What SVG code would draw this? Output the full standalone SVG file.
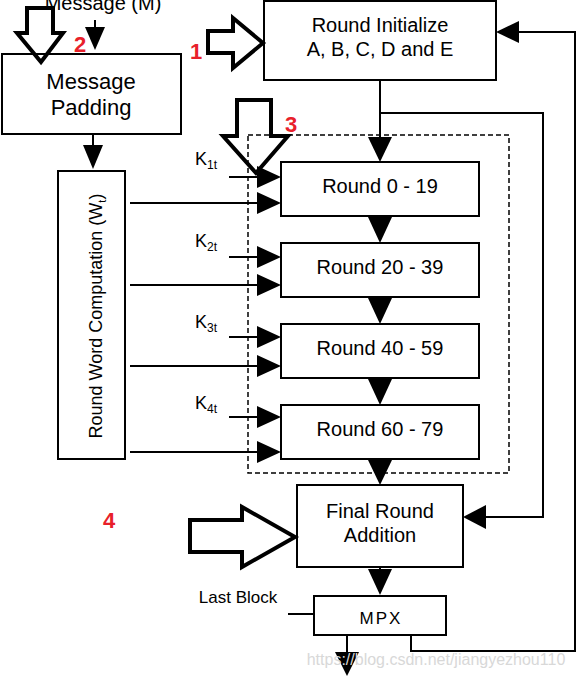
<svg xmlns="http://www.w3.org/2000/svg" width="576" height="676" viewBox="0 0 576 676">
<defs>
<style>
.box{fill:#fff;stroke:#000;stroke-width:2}
.t{font-family:"Liberation Sans",Arial,sans-serif;fill:#000;text-anchor:middle}
.ln{fill:none;stroke:#000;stroke-width:2}
.ah{fill:#000;stroke:none}
.blk{fill:none;stroke:#000;stroke-width:4;stroke-linejoin:miter}
.red{font-family:"Liberation Sans",Arial,sans-serif;font-weight:bold;fill:#e8202a;font-size:22px;text-anchor:middle}
.k{font-family:"Liberation Sans",Arial,sans-serif;font-size:18px;fill:#000}
.dash{fill:none;stroke:#000;stroke-width:1.5;stroke-dasharray:5,3}
</style>
</defs>
<rect width="576" height="676" fill="#fff"/>

<g id="group-dashed">
<rect class="dash" x="248" y="135" width="261" height="338"/>
</g>

<g id="node-message-label">
<text class="t" x="103" y="10" font-size="20">Message (M)</text>
</g>

<g id="node-padding">
<rect class="box" x="2" y="54" width="179" height="80"/>
<text class="t" x="91" y="89" font-size="22">Message</text>
<text class="t" x="91" y="115" font-size="22">Padding</text>
</g>

<g id="node-init">
<rect class="box" x="264" y="1" width="232" height="79"/>
<text class="t" x="380" y="32" font-size="20">Round Initialize</text>
<text class="t" x="380" y="56" font-size="20">A, B, C, D and E</text>
</g>

<g id="node-w">
<rect class="box" x="58" y="171" width="67" height="288"/>
<text class="t" font-size="18" transform="translate(102,316) rotate(-90)">Round Word Computation (W<tspan font-size="11" dy="4">t</tspan><tspan dy="-4">)</tspan></text>
</g>

<g id="node-r0">
<rect class="box" x="281" y="162" width="198" height="54"/>
<text class="t" x="380" y="193" font-size="20">Round 0 - 19</text>
</g>
<g id="node-r1">
<rect class="box" x="281" y="243" width="198" height="54"/>
<text class="t" x="380" y="274" font-size="20">Round 20 - 39</text>
</g>
<g id="node-r2">
<rect class="box" x="281" y="324" width="198" height="54"/>
<text class="t" x="380" y="355" font-size="20">Round 40 - 59</text>
</g>
<g id="node-r3">
<rect class="box" x="281" y="405" width="198" height="54"/>
<text class="t" x="380" y="436" font-size="20">Round 60 - 79</text>
</g>

<g id="node-final">
<rect class="box" x="297" y="485" width="166" height="82"/>
<text class="t" x="380" y="518" font-size="20">Final Round</text>
<text class="t" x="380" y="542" font-size="20">Addition</text>
</g>

<g id="node-mpx">
<rect class="box" x="314" y="596" width="132" height="39"/>
<text class="t" x="381" y="624" font-size="17" letter-spacing="2">MPX</text>
</g>

<g id="node-lastblock">
<text class="t" x="238" y="603" font-size="17">Last Block</text>
</g>

<g id="node-k">
<text class="k" x="195" y="165">K<tspan font-size="12" dy="4">1t</tspan></text>
<text class="k" x="195" y="247">K<tspan font-size="12" dy="4">2t</tspan></text>
<text class="k" x="195" y="328">K<tspan font-size="12" dy="4">3t</tspan></text>
<text class="k" x="195" y="409">K<tspan font-size="12" dy="4">4t</tspan></text>
</g>

<g id="connectors">
<line class="ln" x1="95" y1="20" x2="95" y2="28"/>
<polygon class="ah" points="85,27 105,27 95,50"/>
<line class="ln" x1="93" y1="134" x2="93" y2="146"/>
<polygon class="ah" points="83,145 103,145 93,169"/>
<line class="ln" x1="380" y1="80" x2="380" y2="138"/>
<polygon class="ah" points="368,137 392,137 380,162"/>
<polyline class="ln" points="380,113 543,113 543,517 485,517"/>
<polygon class="ah" points="486,505 486,529 463,517"/>
<polyline class="ln" points="411,635 411,651 575,651 575,32 518,32"/>
<polygon class="ah" points="519,21 519,43 496,32"/>
<polygon class="ah" points="368,217 392,217 380,243"/>
<polygon class="ah" points="368,298 392,298 380,324"/>
<polygon class="ah" points="368,379 392,379 380,405"/>
<polygon class="ah" points="368,460 392,460 380,485"/>
<line class="ln" x1="380" y1="567" x2="380" y2="572"/>
<polygon class="ah" points="368,569 392,569 380,595"/>
<line class="ln" x1="229" y1="177" x2="258" y2="177"/>
<polygon class="ah" points="257,166 257,188 281,177"/>
<line class="ln" x1="229" y1="257" x2="258" y2="257"/>
<polygon class="ah" points="257,246 257,268 281,257"/>
<line class="ln" x1="229" y1="337" x2="258" y2="337"/>
<polygon class="ah" points="257,326 257,348 281,337"/>
<line class="ln" x1="229" y1="417" x2="258" y2="417"/>
<polygon class="ah" points="257,406 257,428 281,417"/>
<line class="ln" x1="130" y1="203" x2="258" y2="203"/>
<polygon class="ah" points="257,192 257,214 281,203"/>
<line class="ln" x1="130" y1="285" x2="258" y2="285"/>
<polygon class="ah" points="257,274 257,296 281,285"/>
<line class="ln" x1="130" y1="366" x2="258" y2="366"/>
<polygon class="ah" points="257,355 257,377 281,366"/>
<line class="ln" x1="130" y1="452" x2="258" y2="452"/>
<polygon class="ah" points="257,441 257,463 281,452"/>
<line class="ln" x1="288" y1="614" x2="314" y2="614"/>
<line class="ln" x1="347" y1="635" x2="347" y2="654"/>
<polygon class="ah" points="335,652 359,652 347,676"/>
</g>

<g id="block-arrows">
<polygon class="blk" points="208,31 233,31 233,18 263,43 233,68 233,53 208,53"/>
<polygon class="blk" points="27,8 53,8 53,33 63,33 41,62 17,33 27,33"/>
<polygon class="blk" points="237,100 271,100 271,136 288,136 256,173 223,136 237,136"/>
<polygon class="blk" points="190,520 242,520 242,507 295,537 242,567 242,552 190,552"/>
</g>

<g id="red-labels">
<text class="red" x="196" y="59">1</text>
<text class="red" x="80" y="52">2</text>
<text class="red" x="291" y="132">3</text>
<text class="red" x="109" y="528">4</text>
</g>

<g id="watermark">
<text x="436" y="665" font-family="'Liberation Sans',Arial,sans-serif" font-size="16" fill="#d8d8d8" text-anchor="middle">https://blog.csdn.net/jiangyezhou110</text>
</g>
</svg>
